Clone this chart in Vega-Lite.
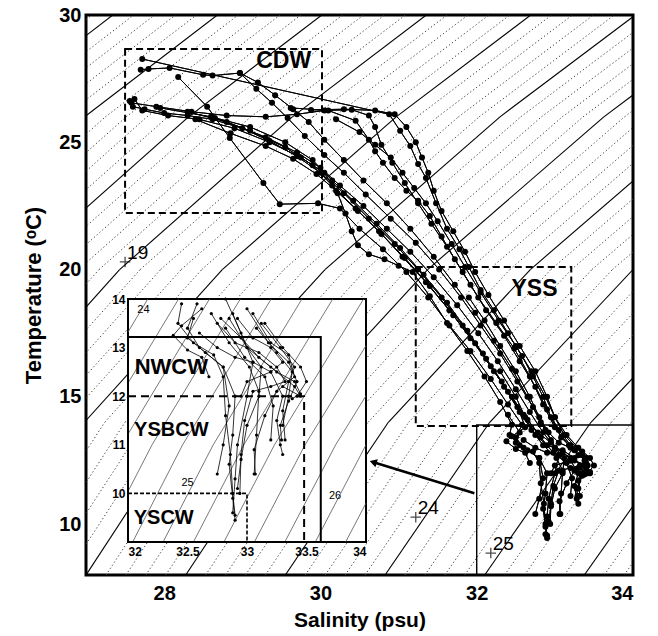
{
"$schema":"https://vega.github.io/schema/vega-lite/v6.json",
"width":547,"height":560,"autosize":"none",
"padding":{"left":86,"top":15,"right":25,"bottom":61},
"background":"white",
"config":{"view":{"stroke":"black","strokeWidth":3},"font":"Liberation Sans",
"axis":{"grid":false,"domain":false,"ticks":false,"labelFont":"Liberation Sans","labelFontWeight":"bold","labelColor":"black","titleFont":"Liberation Sans","titleFontWeight":"bold","titleColor":"black"}},
"datasets":{
"isoMaj":[
{"g":16,"a":20.626,"b":21.795,"c":23.488,"d":25.654,"e":27.343},
{"g":17,"a":21.901,"b":23.091,"c":24.802,"d":26.983,"e":28.681},
{"g":18,"a":23.176,"b":24.387,"c":26.116,"d":28.312,"e":30.018},
{"g":19,"a":24.451,"b":25.684,"c":27.430,"d":29.641,"e":31.355},
{"g":20,"a":25.726,"b":26.980,"c":28.744,"d":30.969,"e":32.692},
{"g":21,"a":27.001,"b":28.277,"c":30.058,"d":32.298,"e":34.029},
{"g":22,"a":28.276,"b":29.573,"c":31.372,"d":33.627,"e":35.366},
{"g":23,"a":29.551,"b":30.869,"c":32.686,"d":34.955,"e":36.704},
{"g":24,"a":30.827,"b":32.166,"c":34.000,"d":36.284,"e":38.041},
{"g":25,"a":32.102,"b":33.462,"c":35.314,"d":37.613,"e":39.378},
{"g":26,"a":33.377,"b":34.758,"c":36.627,"d":38.941,"e":40.715}],
"isoMin":[
{"g":15.8,"a":20.371,"b":21.536,"c":23.225,"d":25.389,"e":27.076},
{"g":16.2,"a":20.881,"b":22.054,"c":23.751,"d":25.920,"e":27.611},
{"g":16.4,"a":21.136,"b":22.313,"c":24.013,"d":26.185,"e":27.878},
{"g":16.6,"a":21.391,"b":22.573,"c":24.276,"d":26.451,"e":28.146},
{"g":16.8,"a":21.646,"b":22.832,"c":24.539,"d":26.717,"e":28.413},
{"g":17.2,"a":22.156,"b":23.350,"c":25.065,"d":27.249,"e":28.948},
{"g":17.4,"a":22.411,"b":23.610,"c":25.327,"d":27.514,"e":29.215},
{"g":17.6,"a":22.666,"b":23.869,"c":25.590,"d":27.780,"e":29.483},
{"g":17.8,"a":22.921,"b":24.128,"c":25.853,"d":28.046,"e":29.750},
{"g":18.2,"a":23.431,"b":24.647,"c":26.379,"d":28.577,"e":30.285},
{"g":18.4,"a":23.686,"b":24.906,"c":26.641,"d":28.843,"e":30.552},
{"g":18.6,"a":23.941,"b":25.165,"c":26.904,"d":29.109,"e":30.820},
{"g":18.8,"a":24.196,"b":25.425,"c":27.167,"d":29.375,"e":31.087},
{"g":19.2,"a":24.706,"b":25.943,"c":27.693,"d":29.906,"e":31.622},
{"g":19.4,"a":24.961,"b":26.202,"c":27.955,"d":30.172,"e":31.889},
{"g":19.6,"a":25.216,"b":26.462,"c":28.218,"d":30.438,"e":32.157},
{"g":19.8,"a":25.471,"b":26.721,"c":28.481,"d":30.703,"e":32.424},
{"g":20.2,"a":25.981,"b":27.239,"c":29.007,"d":31.235,"e":32.959},
{"g":20.4,"a":26.236,"b":27.499,"c":29.269,"d":31.501,"e":33.226},
{"g":20.6,"a":26.491,"b":27.758,"c":29.532,"d":31.766,"e":33.494},
{"g":20.8,"a":26.746,"b":28.017,"c":29.795,"d":32.032,"e":33.761},
{"g":21.2,"a":27.256,"b":28.536,"c":30.321,"d":32.564,"e":34.296},
{"g":21.4,"a":27.511,"b":28.795,"c":30.583,"d":32.829,"e":34.563},
{"g":21.6,"a":27.766,"b":29.054,"c":30.846,"d":33.095,"e":34.831},
{"g":21.8,"a":28.021,"b":29.314,"c":31.109,"d":33.361,"e":35.098},
{"g":22.2,"a":28.531,"b":29.832,"c":31.635,"d":33.892,"e":35.633},
{"g":22.4,"a":28.786,"b":30.092,"c":31.897,"d":34.158,"e":35.900},
{"g":22.6,"a":29.041,"b":30.351,"c":32.160,"d":34.424,"e":36.168},
{"g":22.8,"a":29.296,"b":30.610,"c":32.423,"d":34.690,"e":36.435},
{"g":23.2,"a":29.806,"b":31.129,"c":32.949,"d":35.221,"e":36.971},
{"g":23.4,"a":30.061,"b":31.388,"c":33.211,"d":35.487,"e":37.238},
{"g":23.6,"a":30.316,"b":31.647,"c":33.474,"d":35.753,"e":37.506},
{"g":23.8,"a":30.571,"b":31.907,"c":33.737,"d":36.018,"e":37.773},
{"g":24.2,"a":31.082,"b":32.425,"c":34.263,"d":36.550,"e":38.308},
{"g":24.4,"a":31.337,"b":32.685,"c":34.525,"d":36.815,"e":38.575},
{"g":24.6,"a":31.592,"b":32.944,"c":34.788,"d":37.081,"e":38.843},
{"g":24.8,"a":31.847,"b":33.203,"c":35.051,"d":37.347,"e":39.110},
{"g":25.2,"a":32.357,"b":33.722,"c":35.577,"d":37.878,"e":39.645},
{"g":25.4,"a":32.612,"b":33.981,"c":35.839,"d":38.144,"e":39.912},
{"g":25.6,"a":32.867,"b":34.240,"c":36.102,"d":38.410,"e":40.180},
{"g":25.8,"a":33.122,"b":34.499,"c":36.365,"d":38.675,"e":40.447},
{"g":26.2,"a":33.632,"b":35.018,"c":36.890,"d":39.207,"e":40.982},
{"g":26.4,"a":33.887,"b":35.277,"c":37.153,"d":39.473,"e":41.249}],
"isoIn":[
{"g":24.0,"s1":32,"t1":13.32,"s2":32.166,"t2":14},
{"g":24.2,"s1":32,"t1":12.27,"s2":32.425,"t2":14},
{"g":24.4,"s1":32,"t1":11.22,"s2":32.685,"t2":14},
{"g":24.6,"s1":32,"t1":10.04,"s2":32.202,"t2":11},
{"g":24.6,"s1":32.202,"t1":11,"s2":32.944,"t2":14},
{"g":24.8,"s1":32.039,"t1":9,"s2":32.459,"t2":11},
{"g":24.8,"s1":32.459,"t1":11,"s2":33.203,"t2":14},
{"g":25.0,"s1":32.295,"t1":9,"s2":32.716,"t2":11},
{"g":25.0,"s1":32.716,"t1":11,"s2":33.462,"t2":14},
{"g":25.2,"s1":32.55,"t1":9,"s2":32.973,"t2":11},
{"g":25.2,"s1":32.973,"t1":11,"s2":33.721,"t2":14},
{"g":25.4,"s1":32.806,"t1":9,"s2":33.231,"t2":11},
{"g":25.4,"s1":33.231,"t1":11,"s2":33.98,"t2":14},
{"g":25.6,"s1":33.062,"t1":9,"s2":33.488,"t2":11},
{"g":25.6,"s1":33.488,"t1":11,"s2":34,"t2":13.04},
{"g":25.8,"s1":33.318,"t1":9,"s2":33.745,"t2":11},
{"g":25.8,"s1":33.745,"t1":11,"s2":34,"t2":12.01},
{"g":26.0,"s1":33.574,"t1":9,"s2":34,"t2":11},
{"g":26.2,"s1":33.829,"t1":9,"s2":34,"t2":9.8}],
"isoLab":[{"l":"19","s":27.5,"t":20.3},{"l":"24","s":31.22,"t":10.27},{"l":"25","s":32.18,"t":8.86}],
"inLab":[{"l":"24","s":32.13,"t":13.78},{"l":"25","s":32.5,"t":10.22},{"l":"26","s":33.74,"t":9.95}],
"boxes":[{"r":"CDW","s1":27.5,"s2":30.02,"t1":22.22,"t2":28.66,"ls":29.53,"lt":28.18},{"r":"YSS","s1":31.22,"s2":33.21,"t1":13.85,"t2":20.1,"ls":32.74,"lt":19.23},{"r":"zoom","s1":32,"s2":34,"t1":8,"t2":13.89}],
"ibox":[{"r":"inset","s1":32,"s2":34,"t1":9,"t2":14},{"r":"NWCW","s1":32,"s2":33.62,"t1":9,"t2":13.22,"ls":32.364,"lt":12.6},{"r":"YSBCW","s1":32,"s2":33.48,"t1":9,"t2":12.0,"ls":32.364,"lt":11.31},{"r":"YSCW","s1":32,"s2":33.0,"t1":9,"t2":10.0,"ls":32.3,"lt":9.49}],
"arrow":[{"s1":31.97,"t1":11.21,"s2":30.69,"t2":12.42}],
"ts":[
{"p":1,"s":27.72,"t":28.27},{"p":1,"s":30.88,"t":26.10},{"p":1,"s":31.02,"t":25.45},{"p":1,"s":31.15,"t":24.85},{"p":1,"s":31.25,"t":24.15},{"p":1,"s":31.35,"t":23.60},{"p":1,"s":31.48,"t":22.60},{"p":1,"s":31.62,"t":21.60},{"p":1,"s":31.78,"t":20.80},{"p":1,"s":31.90,"t":20.10},{"p":1,"s":32.05,"t":19.20},{"p":1,"s":32.22,"t":18.40},{"p":1,"s":32.40,"t":17.50},{"p":1,"s":32.58,"t":16.60},{"p":1,"s":32.72,"t":15.80},{"p":1,"s":32.85,"t":15.00},{"p":1,"s":32.95,"t":14.20},{"p":1,"s":33.08,"t":13.40},{"p":1,"s":33.25,"t":12.90},{"p":1,"s":33.38,"t":12.50},{"p":1,"s":33.35,"t":12.00},{"p":1,"s":33.30,"t":11.40},
{"p":2,"s":27.70,"t":27.85},{"p":2,"s":27.80,"t":27.88},{"p":2,"s":28.07,"t":27.92},{"p":2,"s":28.50,"t":27.65},{"p":2,"s":28.62,"t":27.62},{"p":2,"s":28.97,"t":27.72},{"p":2,"s":29.20,"t":27.35},{"p":2,"s":29.42,"t":26.85},{"p":2,"s":29.65,"t":26.30},{"p":2,"s":29.85,"t":25.80},{"p":2,"s":30.05,"t":25.10},{"p":2,"s":30.30,"t":24.30},{"p":2,"s":30.55,"t":23.50},{"p":2,"s":30.85,"t":22.60},{"p":2,"s":31.15,"t":21.60},{"p":2,"s":31.45,"t":20.50},{"p":2,"s":31.72,"t":19.40},{"p":2,"s":31.98,"t":18.30},{"p":2,"s":32.22,"t":17.20},{"p":2,"s":32.45,"t":16.10},{"p":2,"s":32.65,"t":15.00},{"p":2,"s":32.82,"t":14.00},{"p":2,"s":32.95,"t":13.30},{"p":2,"s":33.05,"t":12.70},{"p":2,"s":33.00,"t":12.00},{"p":2,"s":32.92,"t":11.00},{"p":2,"s":32.90,"t":10.30},{"p":2,"s":32.88,"t":9.60},
{"p":3,"s":28.18,"t":27.56},{"p":3,"s":28.55,"t":26.40},{"p":3,"s":28.84,"t":25.17},{"p":3,"s":29.27,"t":23.40},{"p":3,"s":29.48,"t":22.57},{"p":3,"s":29.97,"t":22.60},{"p":3,"s":30.25,"t":22.40},{"p":3,"s":30.50,"t":21.60},{"p":3,"s":30.80,"t":20.80},{"p":3,"s":31.10,"t":19.90},{"p":3,"s":31.38,"t":18.90},{"p":3,"s":31.65,"t":17.80},{"p":3,"s":31.92,"t":16.80},{"p":3,"s":32.18,"t":15.70},{"p":3,"s":32.40,"t":14.70},{"p":3,"s":32.58,"t":13.90},{"p":3,"s":32.50,"t":13.40},{"p":3,"s":32.60,"t":13.00},{"p":3,"s":32.80,"t":12.60},{"p":3,"s":32.85,"t":11.80},{"p":3,"s":32.80,"t":11.00},{"p":3,"s":32.75,"t":10.40},
{"p":4,"s":27.56,"t":26.62},{"p":4,"s":27.60,"t":26.40},{"p":4,"s":27.75,"t":26.30},{"p":4,"s":28.00,"t":26.15},{"p":4,"s":28.30,"t":26.05},{"p":4,"s":28.62,"t":25.90},{"p":4,"s":29.00,"t":25.55},{"p":4,"s":29.35,"t":25.05},{"p":4,"s":29.70,"t":24.45},{"p":4,"s":30.00,"t":23.80},{"p":4,"s":30.30,"t":23.00},{"p":4,"s":30.62,"t":22.00},{"p":4,"s":30.95,"t":21.00},{"p":4,"s":31.25,"t":20.00},{"p":4,"s":31.55,"t":18.90},{"p":4,"s":31.82,"t":17.80},{"p":4,"s":32.08,"t":16.70},{"p":4,"s":32.32,"t":15.60},{"p":4,"s":32.52,"t":14.60},{"p":4,"s":32.70,"t":13.70},{"p":4,"s":32.85,"t":13.10},{"p":4,"s":33.02,"t":12.60},{"p":4,"s":33.10,"t":12.10},{"p":4,"s":33.08,"t":11.20},{"p":4,"s":33.06,"t":10.40},
{"p":5,"s":27.58,"t":26.55},{"p":5,"s":27.90,"t":26.40},{"p":5,"s":28.35,"t":26.20},{"p":5,"s":28.80,"t":26.05},{"p":5,"s":29.30,"t":26.00},{"p":5,"s":29.70,"t":26.10},{"p":5,"s":30.05,"t":26.25},{"p":5,"s":30.40,"t":26.28},{"p":5,"s":30.62,"t":26.05},{"p":5,"s":30.70,"t":25.60},{"p":5,"s":30.78,"t":24.90},{"p":5,"s":30.92,"t":24.20},{"p":5,"s":31.08,"t":23.40},{"p":5,"s":31.25,"t":22.60},{"p":5,"s":31.42,"t":21.80},{"p":5,"s":31.62,"t":20.90},{"p":5,"s":31.82,"t":19.90},{"p":5,"s":32.02,"t":18.90},{"p":5,"s":32.25,"t":17.90},{"p":5,"s":32.48,"t":16.90},{"p":5,"s":32.68,"t":15.80},{"p":5,"s":32.85,"t":14.70},{"p":5,"s":33.00,"t":13.80},{"p":5,"s":33.18,"t":13.10},{"p":5,"s":33.35,"t":12.70},{"p":5,"s":33.42,"t":12.30},{"p":5,"s":33.35,"t":11.90},{"p":5,"s":33.28,"t":11.40},{"p":5,"s":33.29,"t":11.10},
{"p":6,"s":27.62,"t":26.70},{"p":6,"s":27.72,"t":26.25},{"p":6,"s":28.05,"t":26.05},{"p":6,"s":28.45,"t":25.90},{"p":6,"s":28.90,"t":25.55},{"p":6,"s":29.35,"t":25.00},{"p":6,"s":29.75,"t":24.40},{"p":6,"s":30.05,"t":23.80},{"p":6,"s":30.22,"t":23.00},{"p":6,"s":30.32,"t":22.20},{"p":6,"s":30.40,"t":21.50},{"p":6,"s":30.48,"t":20.95},{"p":6,"s":30.62,"t":20.60},{"p":6,"s":30.82,"t":20.40},{"p":6,"s":31.00,"t":20.15},{"p":6,"s":31.18,"t":19.90},{"p":6,"s":31.40,"t":18.95},{"p":6,"s":31.62,"t":17.90},{"p":6,"s":31.88,"t":16.80},{"p":6,"s":32.10,"t":15.80},{"p":6,"s":32.30,"t":14.80},{"p":6,"s":32.45,"t":13.90},{"p":6,"s":32.42,"t":13.50},{"p":6,"s":32.55,"t":13.10},{"p":6,"s":32.72,"t":12.85},{"p":6,"s":32.80,"t":12.40},{"p":6,"s":32.82,"t":11.60},{"p":6,"s":32.86,"t":10.80},{"p":6,"s":32.88,"t":10.00},{"p":6,"s":32.90,"t":9.55},
{"p":7,"s":29.62,"t":26.35},{"p":7,"s":30.10,"t":26.25},{"p":7,"s":30.45,"t":25.85},{"p":7,"s":30.62,"t":25.10},{"p":7,"s":30.70,"t":24.65},{"p":7,"s":30.80,"t":24.20},{"p":7,"s":30.95,"t":23.60},{"p":7,"s":31.10,"t":23.10},{"p":7,"s":31.25,"t":22.70},{"p":7,"s":31.40,"t":22.10},{"p":7,"s":31.55,"t":21.30},{"p":7,"s":31.72,"t":20.40},{"p":7,"s":31.92,"t":19.40},{"p":7,"s":32.12,"t":18.40},{"p":7,"s":32.35,"t":17.40},{"p":7,"s":32.55,"t":16.40},{"p":7,"s":32.75,"t":15.40},{"p":7,"s":32.90,"t":14.50},{"p":7,"s":33.05,"t":13.70},{"p":7,"s":33.20,"t":13.10},{"p":7,"s":33.35,"t":12.85},{"p":7,"s":33.40,"t":12.40},{"p":7,"s":33.25,"t":12.10},{"p":7,"s":33.15,"t":11.60},{"p":7,"s":33.06,"t":10.90},{"p":7,"s":33.07,"t":10.40},
{"p":8,"s":28.40,"t":25.90},{"p":8,"s":28.85,"t":25.35},{"p":8,"s":29.30,"t":24.85},{"p":8,"s":29.65,"t":24.35},{"p":8,"s":29.95,"t":23.75},{"p":8,"s":30.20,"t":23.10},{"p":8,"s":30.48,"t":22.30},{"p":8,"s":30.78,"t":21.40},{"p":8,"s":31.08,"t":20.45},{"p":8,"s":31.40,"t":19.35},{"p":8,"s":31.70,"t":18.20},{"p":8,"s":31.98,"t":17.10},{"p":8,"s":32.22,"t":16.00},{"p":8,"s":32.45,"t":15.00},{"p":8,"s":32.65,"t":14.10},{"p":8,"s":32.82,"t":13.40},{"p":8,"s":32.98,"t":12.80},{"p":8,"s":33.15,"t":12.40},{"p":8,"s":33.22,"t":11.80},{"p":8,"s":33.20,"t":11.10},
{"p":9,"s":28.97,"t":27.72},{"p":9,"s":29.18,"t":27.10},{"p":9,"s":29.38,"t":26.55},{"p":9,"s":29.58,"t":25.95},{"p":9,"s":29.80,"t":25.25},{"p":9,"s":30.05,"t":24.50},{"p":9,"s":30.30,"t":23.80},{"p":9,"s":30.58,"t":22.95},{"p":9,"s":30.90,"t":22.00},{"p":9,"s":31.22,"t":21.05},{"p":9,"s":31.52,"t":20.00},{"p":9,"s":31.80,"t":18.90},{"p":9,"s":32.05,"t":17.80},{"p":9,"s":32.30,"t":16.70},{"p":9,"s":32.52,"t":15.60},{"p":9,"s":32.72,"t":14.60},{"p":9,"s":32.88,"t":13.70},{"p":9,"s":33.00,"t":13.00},{"p":9,"s":33.20,"t":12.60},{"p":9,"s":33.40,"t":12.20},{"p":9,"s":33.45,"t":12.00},{"p":9,"s":33.30,"t":12.20},
{"p":10,"s":29.88,"t":26.27},{"p":10,"s":30.30,"t":26.30},{"p":10,"s":30.70,"t":26.25},{"p":10,"s":30.95,"t":26.10},{"p":10,"s":31.10,"t":25.60},{"p":10,"s":31.22,"t":25.00},{"p":10,"s":31.30,"t":24.40},{"p":10,"s":31.38,"t":23.80},{"p":10,"s":31.45,"t":23.10},{"p":10,"s":31.55,"t":22.30},{"p":10,"s":31.70,"t":21.50},{"p":10,"s":31.85,"t":20.70},{"p":10,"s":31.98,"t":19.90},{"p":10,"s":32.15,"t":19.00},{"p":10,"s":32.35,"t":18.00},{"p":10,"s":32.55,"t":17.00},{"p":10,"s":32.75,"t":16.00},{"p":10,"s":32.90,"t":15.00},{"p":10,"s":33.00,"t":14.20},{"p":10,"s":33.12,"t":13.50},{"p":10,"s":33.28,"t":13.00},{"p":10,"s":33.40,"t":12.60},{"p":10,"s":33.35,"t":12.30},{"p":10,"s":33.30,"t":11.70},{"p":10,"s":33.32,"t":11.10},
{"p":11,"s":27.95,"t":26.35},{"p":11,"s":28.60,"t":26.00},{"p":11,"s":29.10,"t":25.60},{"p":11,"s":29.55,"t":25.00},{"p":11,"s":29.90,"t":24.30},{"p":11,"s":30.15,"t":23.50},{"p":11,"s":30.42,"t":22.70},{"p":11,"s":30.72,"t":21.80},{"p":11,"s":31.02,"t":20.85},{"p":11,"s":31.32,"t":19.80},{"p":11,"s":31.62,"t":18.70},{"p":11,"s":31.88,"t":17.60},{"p":11,"s":32.12,"t":16.50},{"p":11,"s":32.35,"t":15.40},{"p":11,"s":32.55,"t":14.40},{"p":11,"s":32.62,"t":13.80},{"p":11,"s":32.45,"t":13.45},{"p":11,"s":32.38,"t":13.25},{"p":11,"s":32.50,"t":12.95},{"p":11,"s":32.62,"t":12.80},{"p":11,"s":32.68,"t":12.40},
{"p":12,"s":28.65,"t":25.95},{"p":12,"s":29.10,"t":25.45},{"p":12,"s":29.55,"t":24.80},{"p":12,"s":29.90,"t":24.10},{"p":12,"s":30.15,"t":23.30},{"p":12,"s":30.45,"t":22.40},{"p":12,"s":30.75,"t":21.50},{"p":12,"s":31.05,"t":20.50},{"p":12,"s":31.35,"t":19.50},{"p":12,"s":31.65,"t":18.40},{"p":12,"s":31.92,"t":17.30},{"p":12,"s":32.18,"t":16.20},{"p":12,"s":32.40,"t":15.20},{"p":12,"s":32.60,"t":14.30},{"p":12,"s":32.78,"t":13.60},{"p":12,"s":32.95,"t":13.20},{"p":12,"s":33.10,"t":12.80},{"p":12,"s":33.25,"t":12.50},{"p":12,"s":33.40,"t":12.30},{"p":12,"s":33.45,"t":12.05},{"p":12,"s":33.38,"t":11.95},
{"p":13,"s":32.30,"t":16.00},{"p":13,"s":32.50,"t":15.00},{"p":13,"s":32.62,"t":14.20},{"p":13,"s":32.75,"t":13.50},{"p":13,"s":32.90,"t":13.10},{"p":13,"s":33.10,"t":12.90},{"p":13,"s":33.25,"t":12.60},{"p":13,"s":33.32,"t":12.30},{"p":13,"s":33.20,"t":12.20},{"p":13,"s":33.05,"t":12.10},{"p":13,"s":32.98,"t":11.50},{"p":13,"s":32.95,"t":10.80},{"p":13,"s":32.94,"t":10.00},
{"p":14,"s":31.90,"t":18.90},{"p":14,"s":32.10,"t":18.00},{"p":14,"s":32.30,"t":17.00},{"p":14,"s":32.50,"t":16.00},{"p":14,"s":32.68,"t":15.00},{"p":14,"s":32.80,"t":14.20},{"p":14,"s":32.92,"t":13.60},{"p":14,"s":33.05,"t":13.20},{"p":14,"s":33.20,"t":13.00},{"p":14,"s":33.30,"t":12.70},{"p":14,"s":33.20,"t":12.50},{"p":14,"s":33.00,"t":12.30},{"p":14,"s":32.95,"t":12.00},
{"p":15,"s":28.30,"t":26.20},{"p":15,"s":28.80,"t":25.80},{"p":15,"s":29.30,"t":25.20},{"p":15,"s":29.70,"t":24.60},{"p":15,"s":30.00,"t":24.00},{"p":15,"s":30.25,"t":23.30},{"p":15,"s":30.55,"t":22.50},{"p":15,"s":30.85,"t":21.60},{"p":15,"s":31.15,"t":20.70},{"p":15,"s":31.45,"t":19.70},{"p":15,"s":31.75,"t":18.60},{"p":15,"s":32.02,"t":17.50},{"p":15,"s":32.27,"t":16.40},{"p":15,"s":32.50,"t":15.30},{"p":15,"s":32.68,"t":14.40},{"p":15,"s":32.85,"t":13.60},{"p":15,"s":33.00,"t":13.00},{"p":15,"s":33.12,"t":12.60},{"p":15,"s":33.10,"t":12.00},{"p":15,"s":33.00,"t":11.40},{"p":15,"s":32.95,"t":10.70},{"p":15,"s":32.92,"t":10.10},
{"p":16,"s":30.20,"t":25.90},{"p":16,"s":30.50,"t":25.40},{"p":16,"s":30.70,"t":24.90},{"p":16,"s":30.90,"t":24.40},{"p":16,"s":31.05,"t":23.80},{"p":16,"s":31.20,"t":23.20},{"p":16,"s":31.35,"t":22.60},{"p":16,"s":31.50,"t":21.90},{"p":16,"s":31.68,"t":21.00},{"p":16,"s":31.85,"t":20.10},{"p":16,"s":32.05,"t":19.10},{"p":16,"s":32.28,"t":18.00},{"p":16,"s":32.50,"t":17.00},{"p":16,"s":32.70,"t":16.00},{"p":16,"s":32.88,"t":15.00},{"p":16,"s":33.00,"t":14.20},{"p":16,"s":33.15,"t":13.50},{"p":16,"s":33.30,"t":13.00},{"p":16,"s":33.45,"t":12.60},{"p":16,"s":33.50,"t":12.30},{"p":16,"s":33.42,"t":12.00},
{"p":17,"s":32.60,"t":13.30},{"p":17,"s":32.75,"t":13.00},{"p":17,"s":32.90,"t":12.80},{"p":17,"s":33.05,"t":12.70},{"p":17,"s":33.20,"t":12.50},{"p":17,"s":33.30,"t":12.00},{"p":17,"s":33.25,"t":11.50},{"p":17,"s":33.28,"t":11.00},{"p":17,"s":33.30,"t":10.80},
{"p":18,"s":32.40,"t":14.30},{"p":18,"s":32.55,"t":13.60},{"p":18,"s":32.50,"t":13.20},{"p":18,"s":32.65,"t":12.90},{"p":18,"s":32.80,"t":12.60},{"p":18,"s":32.90,"t":12.00},{"p":18,"s":32.88,"t":11.20},{"p":18,"s":32.85,"t":10.60},{"p":18,"s":32.88,"t":9.90},{"p":18,"s":32.90,"t":9.45}]
},
"resolve":{"scale":{"x":"independent","y":"independent"}},
"layer":[
{"layer":[
{"data":{"name":"ts"},"mark":{"type":"line","clip":true,"color":"black","strokeWidth":1},
"encoding":{"x":{"field":"s","type":"quantitative","scale":{"domain":[27,34],"nice":false,"zero":false},"axis":{"values":[28,30,32,34],"format":"d","title":"Salinity (psu)","labelFontSize":20,"labelPadding":8,"titlePadding":6,"titleFontSize":21}},
"y":{"field":"t","type":"quantitative","scale":{"domain":[8,30],"nice":false,"zero":false},"axis":{"values":[10,15,20,25,30],"format":"d","title":"Temperature (ᵒC)","labelFontSize":20,"labelPadding":5,"titlePadding":13,"titleFontSize":22}},"detail":{"field":"p"},"order":{"value":null}}},
{"data":{"name":"isoMin"},"mark":{"type":"rule","clip":true,"stroke":"#444","strokeWidth":1,"strokeDash":[1.3,2.4]},
"encoding":{"x":{"field":"a","type":"quantitative","scale":{"domain":[27,34],"nice":false,"zero":false}},"x2":{"field":"b"},"y":{"datum":8,"type":"quantitative","scale":{"domain":[8,30],"nice":false,"zero":false}},"y2":{"datum":14}}},
{"data":{"name":"isoMin"},"mark":{"type":"rule","clip":true,"stroke":"#444","strokeWidth":1,"strokeDash":[1.3,2.4]},
"encoding":{"x":{"field":"b","type":"quantitative","scale":{"domain":[27,34],"nice":false,"zero":false}},"x2":{"field":"c"},"y":{"datum":14,"type":"quantitative","scale":{"domain":[8,30],"nice":false,"zero":false}},"y2":{"datum":20}}},
{"data":{"name":"isoMin"},"mark":{"type":"rule","clip":true,"stroke":"#444","strokeWidth":1,"strokeDash":[1.3,2.4]},
"encoding":{"x":{"field":"c","type":"quantitative","scale":{"domain":[27,34],"nice":false,"zero":false}},"x2":{"field":"d"},"y":{"datum":20,"type":"quantitative","scale":{"domain":[8,30],"nice":false,"zero":false}},"y2":{"datum":26}}},
{"data":{"name":"isoMin"},"mark":{"type":"rule","clip":true,"stroke":"#444","strokeWidth":1,"strokeDash":[1.3,2.4]},
"encoding":{"x":{"field":"d","type":"quantitative","scale":{"domain":[27,34],"nice":false,"zero":false}},"x2":{"field":"e"},"y":{"datum":26,"type":"quantitative","scale":{"domain":[8,30],"nice":false,"zero":false}},"y2":{"datum":30}}},
{"data":{"name":"isoMaj"},"mark":{"type":"rule","clip":true,"stroke":"black","strokeWidth":1.1},
"encoding":{"x":{"field":"a","type":"quantitative","scale":{"domain":[27,34],"nice":false,"zero":false}},"x2":{"field":"b"},"y":{"datum":8,"type":"quantitative","scale":{"domain":[8,30],"nice":false,"zero":false}},"y2":{"datum":14}}},
{"data":{"name":"isoMaj"},"mark":{"type":"rule","clip":true,"stroke":"black","strokeWidth":1.1},
"encoding":{"x":{"field":"b","type":"quantitative","scale":{"domain":[27,34],"nice":false,"zero":false}},"x2":{"field":"c"},"y":{"datum":14,"type":"quantitative","scale":{"domain":[8,30],"nice":false,"zero":false}},"y2":{"datum":20}}},
{"data":{"name":"isoMaj"},"mark":{"type":"rule","clip":true,"stroke":"black","strokeWidth":1.1},
"encoding":{"x":{"field":"c","type":"quantitative","scale":{"domain":[27,34],"nice":false,"zero":false}},"x2":{"field":"d"},"y":{"datum":20,"type":"quantitative","scale":{"domain":[8,30],"nice":false,"zero":false}},"y2":{"datum":26}}},
{"data":{"name":"isoMaj"},"mark":{"type":"rule","clip":true,"stroke":"black","strokeWidth":1.1},
"encoding":{"x":{"field":"d","type":"quantitative","scale":{"domain":[27,34],"nice":false,"zero":false}},"x2":{"field":"e"},"y":{"datum":26,"type":"quantitative","scale":{"domain":[8,30],"nice":false,"zero":false}},"y2":{"datum":30}}},
{"data":{"name":"isoLab"},"mark":{"type":"point","shape":"M-1,0H1M0,-1V1","size":110,"filled":false,"stroke":"black","strokeWidth":1.3},
"encoding":{"x":{"field":"s","type":"quantitative","scale":{"domain":[27,34],"nice":false,"zero":false}},"y":{"field":"t","type":"quantitative","scale":{"domain":[8,30],"nice":false,"zero":false}}}},
{"data":{"name":"isoLab"},"mark":{"type":"text","align":"left","baseline":"bottom","dx":2,"dy":1,"fontSize":19,"font":"Liberation Sans","color":"black"},
"encoding":{"x":{"field":"s","type":"quantitative","scale":{"domain":[27,34],"nice":false,"zero":false}},"y":{"field":"t","type":"quantitative","scale":{"domain":[8,30],"nice":false,"zero":false}},"text":{"field":"l"}}},
{"data":{"name":"ts"},"mark":{"type":"line","clip":true,"color":"black","strokeWidth":1},
"encoding":{"x":{"field":"s","type":"quantitative","scale":{"domain":[27,34],"nice":false,"zero":false}},"y":{"field":"t","type":"quantitative","scale":{"domain":[8,30],"nice":false,"zero":false}},"detail":{"field":"p"},"order":{"value":null}}},
{"data":{"name":"ts"},"mark":{"type":"circle","clip":true,"color":"black","opacity":1,"size":36},
"encoding":{"x":{"field":"s","type":"quantitative","scale":{"domain":[27,34],"nice":false,"zero":false}},"y":{"field":"t","type":"quantitative","scale":{"domain":[8,30],"nice":false,"zero":false}}}},
{"data":{"name":"boxes"},"transform":[{"filter":"datum.r != 'zoom'"}],"mark":{"type":"rect","filled":false,"stroke":"black","strokeWidth":2,"strokeDash":[7,4]},
"encoding":{"x":{"field":"s1","type":"quantitative","scale":{"domain":[27,34],"nice":false,"zero":false}},"x2":{"field":"s2"},"y":{"field":"t1","type":"quantitative","scale":{"domain":[8,30],"nice":false,"zero":false}},"y2":{"field":"t2"}}},
{"data":{"name":"boxes"},"transform":[{"filter":"datum.r == 'zoom'"}],"mark":{"type":"rect","filled":false,"stroke":"black","strokeWidth":1.4},
"encoding":{"x":{"field":"s1","type":"quantitative","scale":{"domain":[27,34],"nice":false,"zero":false}},"x2":{"field":"s2"},"y":{"field":"t1","type":"quantitative","scale":{"domain":[8,30],"nice":false,"zero":false}},"y2":{"field":"t2"}}},
{"data":{"name":"boxes"},"transform":[{"filter":"datum.r != 'zoom'"}],"mark":{"type":"text","fontSize":23,"fontWeight":"bold","font":"Liberation Sans","color":"black"},
"encoding":{"x":{"field":"ls","type":"quantitative","scale":{"domain":[27,34],"nice":false,"zero":false}},"y":{"field":"lt","type":"quantitative","scale":{"domain":[8,30],"nice":false,"zero":false}},"text":{"field":"r"}}},
{"data":{"name":"arrow"},"mark":{"type":"rule","stroke":"black","strokeWidth":2.5},
"encoding":{"x":{"field":"s1","type":"quantitative","scale":{"domain":[27,34],"nice":false,"zero":false}},"x2":{"field":"s2"},"y":{"field":"t1","type":"quantitative","scale":{"domain":[8,30],"nice":false,"zero":false}},"y2":{"field":"t2"}}},
{"data":{"name":"arrow"},"mark":{"type":"point","shape":"triangle","filled":true,"color":"black","opacity":1,"size":70,"angle":287},
"encoding":{"x":{"field":"s2","type":"quantitative","scale":{"domain":[27,34],"nice":false,"zero":false}},"y":{"field":"t2","type":"quantitative","scale":{"domain":[8,30],"nice":false,"zero":false}}}}
]},
{"layer":[
{"data":{"name":"ibox"},"transform":[{"filter":"datum.r == 'inset'"}],"mark":{"type":"rect","fill":"white","stroke":"black","strokeWidth":2},
"encoding":{"x":{"field":"s1","type":"quantitative","scale":{"domain":[32,34],"range":[42,280],"nice":false,"zero":false},"axis":{"orient":"bottom","offset":-33,"values":[32,32.5,33,33.5,34],"labelExpr":"'' + datum.value","labelFontSize":12,"labelPadding":4,"title":null}},"x2":{"field":"s2"},
"y":{"field":"t1","type":"quantitative","scale":{"domain":[9,14],"range":[527,284],"nice":false,"zero":false},"axis":{"orient":"left","offset":-42,"values":[10,11,12,13,14],"format":"d","labelFontSize":12,"labelPadding":3,"title":null}},"y2":{"field":"t2"}}},
{"data":{"name":"isoIn"},"mark":{"type":"rule","stroke":"#555","strokeWidth":0.8},
"encoding":{"x":{"field":"s1","type":"quantitative","scale":{"domain":[32,34],"range":[42,280],"nice":false,"zero":false}},"x2":{"field":"s2"},"y":{"field":"t1","type":"quantitative","scale":{"domain":[9,14],"range":[527,284],"nice":false,"zero":false}},"y2":{"field":"t2"}}},
{"data":{"name":"ts"},"transform":[{"filter":"datum.s >= 32 && datum.s <= 34 && datum.t >= 9 && datum.t <= 14"}],"mark":{"type":"line","color":"black","strokeWidth":0.8},
"encoding":{"x":{"field":"s","type":"quantitative","scale":{"domain":[32,34],"range":[42,280],"nice":false,"zero":false}},"y":{"field":"t","type":"quantitative","scale":{"domain":[9,14],"range":[527,284],"nice":false,"zero":false}},"detail":{"field":"p"},"order":{"value":null}}},
{"data":{"name":"ts"},"transform":[{"filter":"datum.s >= 32 && datum.s <= 34 && datum.t >= 9 && datum.t <= 14"}],"mark":{"type":"circle","color":"black","opacity":1,"size":10},
"encoding":{"x":{"field":"s","type":"quantitative","scale":{"domain":[32,34],"range":[42,280],"nice":false,"zero":false}},"y":{"field":"t","type":"quantitative","scale":{"domain":[9,14],"range":[527,284],"nice":false,"zero":false}}}},
{"data":{"name":"ibox"},"transform":[{"filter":"datum.r == 'NWCW'"}],"mark":{"type":"rect","filled":false,"stroke":"black","strokeWidth":2},
"encoding":{"x":{"field":"s1","type":"quantitative","scale":{"domain":[32,34],"range":[42,280],"nice":false,"zero":false}},"x2":{"field":"s2"},"y":{"field":"t1","type":"quantitative","scale":{"domain":[9,14],"range":[527,284],"nice":false,"zero":false}},"y2":{"field":"t2"}}},
{"data":{"name":"ibox"},"transform":[{"filter":"datum.r == 'YSBCW'"}],"mark":{"type":"rect","filled":false,"stroke":"black","strokeWidth":2,"strokeDash":[8,5]},
"encoding":{"x":{"field":"s1","type":"quantitative","scale":{"domain":[32,34],"range":[42,280],"nice":false,"zero":false}},"x2":{"field":"s2"},"y":{"field":"t1","type":"quantitative","scale":{"domain":[9,14],"range":[527,284],"nice":false,"zero":false}},"y2":{"field":"t2"}}},
{"data":{"name":"ibox"},"transform":[{"filter":"datum.r == 'YSCW'"}],"mark":{"type":"rect","filled":false,"stroke":"black","strokeWidth":1.6,"strokeDash":[4,2]},
"encoding":{"x":{"field":"s1","type":"quantitative","scale":{"domain":[32,34],"range":[42,280],"nice":false,"zero":false}},"x2":{"field":"s2"},"y":{"field":"t1","type":"quantitative","scale":{"domain":[9,14],"range":[527,284],"nice":false,"zero":false}},"y2":{"field":"t2"}}},
{"data":{"name":"ibox"},"transform":[{"filter":"datum.r == 'NWCW'"}],"mark":{"type":"text","fontSize":22,"fontWeight":"bold","font":"Liberation Sans","color":"black"},
"encoding":{"x":{"field":"ls","type":"quantitative","scale":{"domain":[32,34],"range":[42,280],"nice":false,"zero":false}},"y":{"field":"lt","type":"quantitative","scale":{"domain":[9,14],"range":[527,284],"nice":false,"zero":false}},"text":{"field":"r"}}},
{"data":{"name":"ibox"},"transform":[{"filter":"datum.r == 'YSBCW' || datum.r == 'YSCW'"}],"mark":{"type":"text","fontSize":20,"fontWeight":"bold","font":"Liberation Sans","color":"black"},
"encoding":{"x":{"field":"ls","type":"quantitative","scale":{"domain":[32,34],"range":[42,280],"nice":false,"zero":false}},"y":{"field":"lt","type":"quantitative","scale":{"domain":[9,14],"range":[527,284],"nice":false,"zero":false}},"text":{"field":"r"}}},
{"data":{"name":"inLab"},"mark":{"type":"text","fontSize":11,"font":"Liberation Sans","color":"black"},
"encoding":{"x":{"field":"s","type":"quantitative","scale":{"domain":[32,34],"range":[42,280],"nice":false,"zero":false}},"y":{"field":"t","type":"quantitative","scale":{"domain":[9,14],"range":[527,284],"nice":false,"zero":false}},"text":{"field":"l"}}}
]}
]
}
